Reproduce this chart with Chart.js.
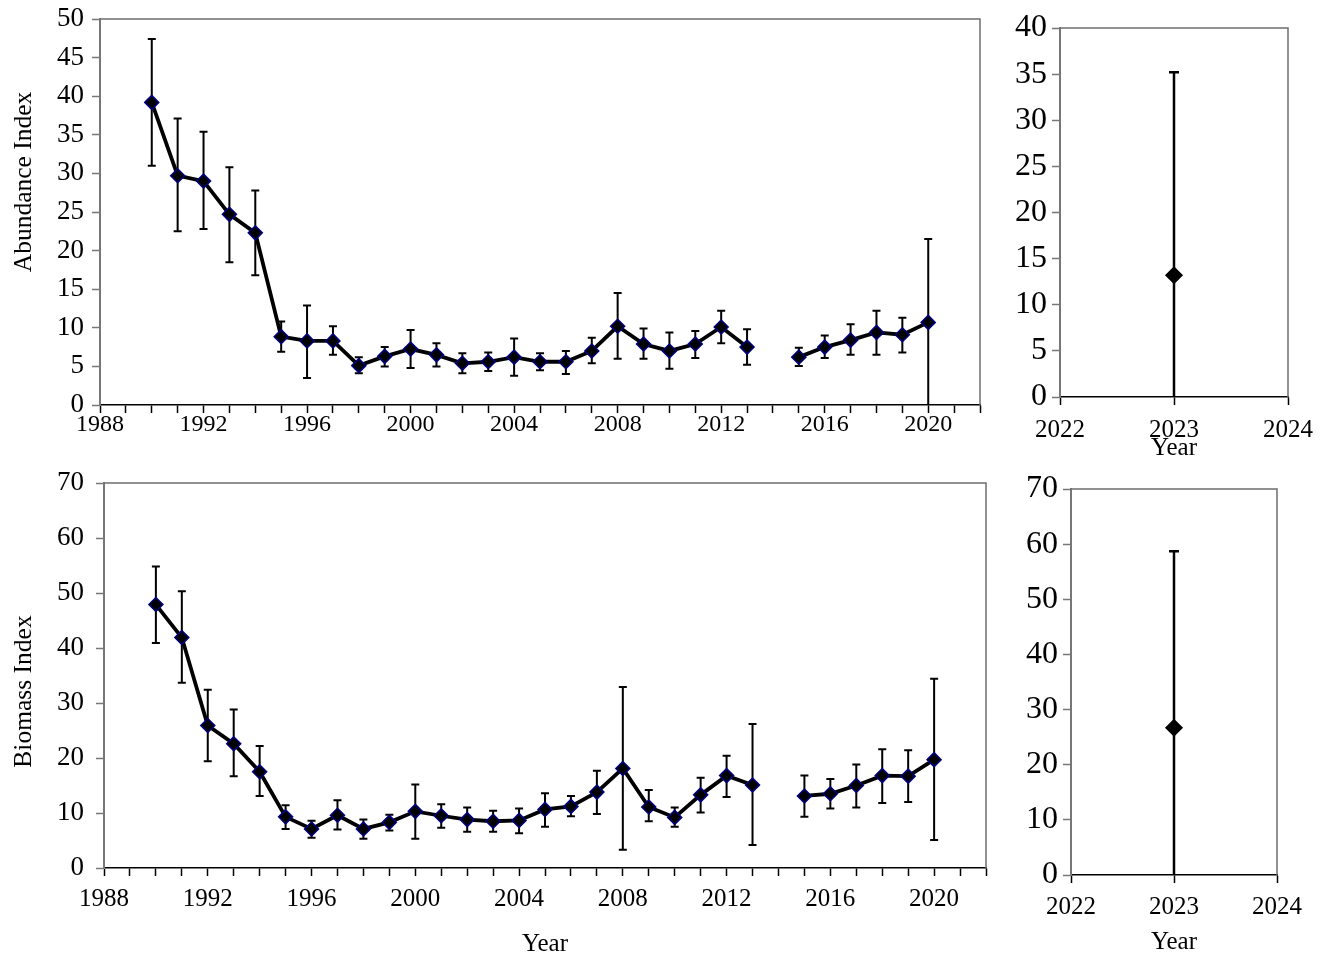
<!DOCTYPE html>
<html>
<head>
<meta charset="utf-8">
<script src="https://cdn.jsdelivr.net/npm/chart.js@4.4.1/dist/chart.umd.min.js"></script>
<style>
  body { margin: 0; background: #fff; }
  .panel { position: absolute; }
</style>
</head>
<body>
<div class="panel" style="left:0;top:0;width:1000px;height:460px"><canvas id="abunMain"></canvas></div>
<div class="panel" style="left:1000px;top:0;width:332px;height:460px"><canvas id="abunNew"></canvas></div>
<div class="panel" style="left:0;top:470px;width:1000px;height:490px"><canvas id="bioMain"></canvas></div>
<div class="panel" style="left:1000px;top:470px;width:332px;height:490px"><canvas id="bioNew"></canvas></div>
<script>
const FONT = "'Liberation Serif', 'Times New Roman', serif";

// survey years (no survey in 2014)
const years = [1990, 1991, 1992, 1993, 1994, 1995, 1996, 1997, 1998, 1999,
  2000, 2001, 2002, 2003, 2004, 2005, 2006, 2007, 2008, 2009,
  2010, 2011, 2012, 2013, 2014, 2015, 2016, 2017, 2018, 2019, 2020];

const abundance = [39.2, 29.7, 29.0, 24.7, 22.3, 8.85, 8.3, 8.3, 5.1, 6.3,
  7.25, 6.5, 5.4, 5.6, 6.2, 5.6, 5.6, 7.0, 10.2, 7.9,
  7.0, 7.9, 10.1, 7.5, null, 6.2, 7.5, 8.4, 9.4, 9.1, 10.7];
const abundanceHigh = [47.4, 37.1, 35.4, 30.8, 27.8, 10.8, 12.9, 10.2, 6.2, 7.5,
  9.7, 8.0, 6.7, 6.8, 8.6, 6.7, 7.0, 8.7, 14.5, 9.9,
  9.4, 9.6, 12.2, 9.8, null, 7.4, 9.0, 10.45, 12.2, 11.3, 21.5];
const abundanceLow = [31.0, 22.5, 22.8, 18.5, 16.8, 6.9, 3.5, 6.5, 4.1, 5.0,
  4.8, 5.0, 4.1, 4.4, 3.8, 4.5, 4.0, 5.4, 6.0, 6.0,
  4.7, 6.1, 8.0, 5.2, null, 5.05, 6.1, 6.5, 6.5, 6.8, 0];

const biomass = [47.9, 41.9, 25.9, 22.6, 17.5, 9.3, 7.1, 9.6, 7.1, 8.3,
  10.3, 9.5, 8.8, 8.5, 8.65, 10.65, 11.2, 13.8, 18.1, 11.1,
  9.2, 13.3, 16.8, 15.1, null, 13.1, 13.5, 15.0, 16.8, 16.7, 19.7];
const biomassHigh = [54.8, 50.3, 32.4, 28.8, 22.2, 11.4, 8.6, 12.3, 8.8, 9.7,
  15.2, 11.6, 11.0, 10.4, 10.8, 13.6, 13.1, 17.7, 32.9, 14.2,
  11.0, 16.4, 20.4, 26.2, null, 16.8, 16.2, 18.8, 21.6, 21.4, 34.4];
const biomassLow = [40.9, 33.7, 19.4, 16.7, 13.1, 7.1, 5.5, 7.0, 5.3, 6.8,
  5.3, 7.3, 6.6, 6.6, 6.3, 7.5, 9.4, 9.8, 3.3, 8.5,
  7.5, 10.1, 12.9, 4.2, null, 9.3, 10.8, 11.0, 11.8, 12.0, 5.1];

// new survey
const newYears = [2023];
const newAbundance = [13.2];
const newAbundanceHigh = [35.2];
const newAbundanceLow = [0];
const newBiomass = [26.7];
const newBiomassHigh = [58.7];
const newBiomassLow = [0];

// error bars + box frame + rotated y title
const extras = {
  id: 'extras',
  beforeDatasetsDraw(chart) {
    const {ctx, scales: {x, y}} = chart;
    const ds = chart.data.datasets[0];
    ctx.save();
    ctx.strokeStyle = '#000';
    ctx.lineWidth = ds.errWidth;
    ds.data.forEach((pt, i) => {
      if (ds.errLow[i] == null) return;
      const px = x.getPixelForValue(pt.x);
      const top = y.getPixelForValue(ds.errHigh[i]);
      const bot = y.getPixelForValue(ds.errLow[i]);
      ctx.beginPath();
      ctx.moveTo(px, top); ctx.lineTo(px, bot);
      ctx.moveTo(px - ds.capSize, top); ctx.lineTo(px + ds.capSize, top);
      if (ds.errLow[i] > 0) {
        ctx.moveTo(px - ds.capSize, bot); ctx.lineTo(px + ds.capSize, bot);
      }
      ctx.stroke();
    });
    ctx.restore();
  },
  afterDraw(chart) {
    const {ctx, chartArea: a} = chart;
    const ds = chart.data.datasets[0];
    ctx.save();
    ctx.strokeStyle = '#6e6e6e';
    ctx.lineWidth = 1.5;
    ctx.beginPath();
    ctx.moveTo(a.left, a.top); ctx.lineTo(a.right, a.top); ctx.lineTo(a.right, a.bottom);
    ctx.stroke();
    if (ds.yTitle) {
      ctx.translate(ds.yTitleX, (a.top + a.bottom) / 2 + ds.yTitleShift);
      ctx.rotate(-Math.PI / 2);
      ctx.fillStyle = '#000';
      ctx.font = '25.5px ' + FONT;
      ctx.textAlign = 'center';
      ctx.textBaseline = 'middle';
      ctx.fillText(ds.yTitle, 0, 0);
    }
    ctx.restore();
  }
};

function panel(id, p) {
  return new Chart(document.getElementById(id), {
    type: 'line',
    data: {
      datasets: [{
        data: p.xs.map((x, i) => ({x: x, y: p.ys[i]})),
        errHigh: p.high,
        errLow: p.low,
        errWidth: p.errWidth,
        capSize: p.cap,
        yTitle: p.yTitle,
        yTitleX: p.yTitleX,
        yTitleShift: p.yTitleShift,
        borderColor: '#000',
        borderWidth: 3.8,
        spanGaps: false,
        pointStyle: 'rectRot',
        pointRadius: p.pointRadius,
        pointBackgroundColor: '#000',
        pointBorderColor: p.pointBorder,
        pointBorderWidth: 1.5,
        tension: 0
      }]
    },
    options: {
      responsive: true,
      maintainAspectRatio: false,
      animation: false,
      layout: {padding: p.padding},
      plugins: {legend: {display: false}, tooltip: {enabled: false}},
      scales: {
        x: {
          type: 'linear',
          min: p.xMin,
          max: p.xMax,
          afterFit: (s) => { s.height = p.xHeight; s.paddingLeft = 0; s.paddingRight = 0; },
          border: {display: true, color: '#000', width: 1.5},
          grid: {drawOnChartArea: false, drawTicks: true, tickLength: 8, tickColor: '#000', tickWidth: 1.5},
          ticks: {
            stepSize: 1,
            autoSkip: false,
            maxRotation: 0,
            padding: p.xPad,
            color: '#000',
            font: {family: FONT, size: p.xFont},
            callback: (v) => (v - p.xMin) % p.labelEvery === 0 && v < p.lastLabel + 1 ? String(v) : ''
          },
          title: {
            display: !!p.xTitle,
            text: p.xTitle,
            color: '#000',
            font: {family: FONT, size: 25},
            padding: {top: 0, bottom: p.xTitlePad}
          }
        },
        y: {
          min: 0,
          max: p.yMax,
          afterFit: (s) => { s.width = p.yWidth; s.paddingTop = 0; s.paddingBottom = 0; },
          border: {display: true, color: '#777', width: 2},
          grid: {drawOnChartArea: false, drawTicks: true, tickLength: 8, tickColor: '#777', tickWidth: 1.5},
          ticks: {
            stepSize: p.yStep,
            padding: p.yPad,
            color: '#000',
            font: {family: FONT, size: p.yFont}
          }
        }
      }
    },
    plugins: [extras]
  });
}

panel('abunMain', {
  xs: years, ys: abundance, high: abundanceHigh, low: abundanceLow,
  xMin: 1988, xMax: 2022, labelEvery: 4, lastLabel: 2020,
  yMax: 50, yStep: 5,
  padding: {top: 19, right: 20, left: 0, bottom: 0},
  xHeight: 55, yWidth: 100, xPad: -3, yPad: 8, xFont: 24, yFont: 27,
  yTitle: 'Abundance Index', yTitleX: 24, yTitleShift: -30,
  pointRadius: 7, pointBorder: '#000080', errWidth: 2, cap: 4
});

panel('abunNew', {
  xs: newYears, ys: newAbundance, high: newAbundanceHigh, low: newAbundanceLow,
  xMin: 2022, xMax: 2024, labelEvery: 1, lastLabel: 2024,
  yMax: 40, yStep: 5,
  padding: {top: 28, right: 44, left: 0, bottom: 0},
  xHeight: 63, yWidth: 60, xPad: 10, yPad: 5, xFont: 25, yFont: 32,
  xTitle: 'Year', xTitlePad: -3,
  pointRadius: 8, pointBorder: '#000', errWidth: 2.5, cap: 5
});

panel('bioMain', {
  xs: years, ys: biomass, high: biomassHigh, low: biomassLow,
  xMin: 1988, xMax: 2022, labelEvery: 4, lastLabel: 2020,
  yMax: 70, yStep: 10,
  padding: {top: 13, right: 14, left: 0, bottom: 0},
  xHeight: 92, yWidth: 104, xPad: 8, yPad: 12, xFont: 25, yFont: 27,
  xTitle: 'Year', xTitlePad: 1,
  yTitle: 'Biomass Index', yTitleX: 24, yTitleShift: 16,
  pointRadius: 7, pointBorder: '#000080', errWidth: 2, cap: 4
});

panel('bioNew', {
  xs: newYears, ys: newBiomass, high: newBiomassHigh, low: newBiomassLow,
  xMin: 2022, xMax: 2024, labelEvery: 1, lastLabel: 2024,
  yMax: 70, yStep: 10,
  padding: {top: 19, right: 55, left: 0, bottom: 0},
  xHeight: 85, yWidth: 71, xPad: 9, yPad: 5, xFont: 25, yFont: 32,
  xTitle: 'Year', xTitlePad: 3,
  pointRadius: 8, pointBorder: '#000', errWidth: 2.5, cap: 5
});
</script>
</body>
</html>
